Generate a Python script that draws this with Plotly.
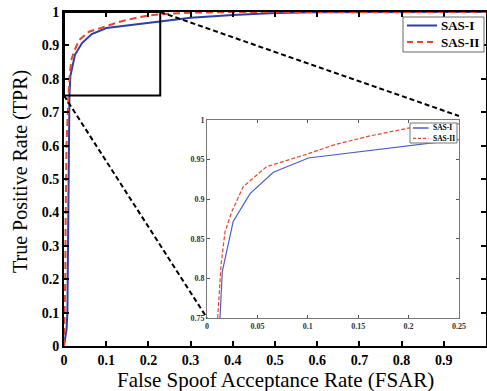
import plotly.graph_objects as go

# ---- data ----
sas1_fsar = [0.0, 0.006, 0.008, 0.009, 0.010, 0.011, 0.0129, 0.0152, 0.026, 0.0427, 0.0658, 0.1006, 0.127, 0.152, 0.211, 0.248, 0.30, 0.40, 0.50, 0.60, 0.80, 1.0]
sas1_tpr  = [0.0, 0.05, 0.10, 0.22, 0.35, 0.50, 0.75, 0.809, 0.872, 0.907, 0.934, 0.952, 0.956, 0.960, 0.969, 0.975, 0.983, 0.991, 0.997, 0.999, 1.0, 1.0]
sas2_fsar = [0.0, 0.003, 0.004, 0.006, 0.0106, 0.0139, 0.0179, 0.0245, 0.036, 0.059, 0.097, 0.127, 0.162, 0.201, 0.248, 0.30, 0.40, 0.60, 1.0]
sas2_tpr  = [0.0, 0.20, 0.40, 0.60, 0.75, 0.817, 0.859, 0.884, 0.916, 0.941, 0.956, 0.969, 0.980, 0.990, 0.995, 0.998, 1.0, 1.0, 1.0]
series_names = ["SAS-I", "SAS-II"]

main_ticks = [0, 0.1, 0.2, 0.3, 0.4, 0.5, 0.6, 0.7, 0.8, 0.9, 1]
main_ticktext = ["0", "0.1", "0.2", "0.3", "0.4", "0.5", "0.6", "0.7", "0.8", "0.9", "1"]
inset_xticks = [0, 0.05, 0.1, 0.15, 0.2, 0.25]
inset_xtext = ["0", "0.05", "0.1", "0.15", "0.2", "0.25"]
inset_yticks = [0.75, 0.8, 0.85, 0.9, 0.95, 1]
inset_ytext = ["0.75", "0.8", "0.85", "0.9", "0.95", "1"]
zoom_box_x = [0, 0.228]
zoom_box_y = [0.75, 1.0]
inset_x_range = [0, 0.25]
inset_y_range = [0.75, 1.0]

BLUE = "#2b3fa8"
BLUE_IN = "#4a60c0"
RED = "#e8452b"
SERIF = "Liberation Serif"

W, H = 487, 391
ML, MR, MT, MB = 64, 1, 12, 45
PW, PH = W - ML - MR, H - MT - MB


def pxx(xpix):
    return (xpix - ML) / PW


def pxy(ypix):
    return (H - MB - ypix) / PH


inset_dom_x = [pxx(207), pxx(459)]
inset_dom_y = [pxy(318), pxy(120)]

fig = go.Figure()
fig.add_trace(go.Scatter(x=sas1_fsar, y=sas1_tpr, mode="lines", name=series_names[0],
                         line=dict(color=BLUE, width=2)))
fig.add_trace(go.Scatter(x=sas2_fsar, y=sas2_tpr, mode="lines", name=series_names[1],
                         line=dict(color=RED, width=2, dash="7px,4px")))
fig.add_trace(go.Scatter(x=sas1_fsar, y=sas1_tpr, mode="lines", name=series_names[0],
                         line=dict(color=BLUE_IN, width=1.2), xaxis="x2", yaxis="y2"))
fig.add_trace(go.Scatter(x=sas2_fsar, y=sas2_tpr, mode="lines", name=series_names[1],
                         line=dict(color=RED, width=1.2, dash="4px,2px"), xaxis="x2", yaxis="y2"))

tickfont_main = dict(family=SERIF, size=14, color="black", weight="bold")
tickfont_in = dict(family=SERIF, size=8, color="#333", weight="bold")

fig.update_layout(
    width=W, height=H,
    margin=dict(l=ML, r=MR, t=MT, b=MB),
    paper_bgcolor="white", plot_bgcolor="white",
    showlegend=False,
    xaxis=dict(domain=[0, 1], range=[0, 1], tickvals=main_ticks, ticktext=main_ticktext,
               ticks="inside", ticklen=5, tickwidth=1.5, tickcolor="black",
               showline=True, linecolor="black", linewidth=2, mirror="ticks",
               showgrid=False, zeroline=False, tickfont=tickfont_main, automargin=False),
    yaxis=dict(domain=[0, 1], range=[0, 1], tickvals=main_ticks, ticktext=main_ticktext,
               ticks="inside", ticklen=5, tickwidth=1.5, tickcolor="black",
               showline=True, linecolor="black", linewidth=2, mirror="ticks",
               showgrid=False, zeroline=False, tickfont=tickfont_main, automargin=False),
    xaxis2=dict(domain=inset_dom_x, anchor="y2", range=inset_x_range,
                tickvals=inset_xticks, ticktext=inset_xtext,
                ticks="inside", ticklen=3, tickcolor="#555",
                showline=True, linecolor="#777", linewidth=1, mirror="ticks",
                showgrid=False, zeroline=False, tickfont=tickfont_in, automargin=False),
    yaxis2=dict(domain=inset_dom_y, anchor="x2", range=inset_y_range,
                tickvals=inset_yticks, ticktext=inset_ytext,
                ticks="inside", ticklen=3, tickcolor="#555",
                showline=True, linecolor="#777", linewidth=1, mirror="ticks",
                showgrid=False, zeroline=False, tickfont=tickfont_in, automargin=False),
)

# axis titles
fig.add_annotation(text="False Spoof Acceptance Rate (FSAR)", xref="paper", yref="paper",
                   x=0.5, y=pxy(380), xanchor="center", yanchor="middle", showarrow=False,
                   font=dict(family=SERIF, size=21, color="black"))
fig.add_annotation(text="True Positive Rate (TPR)", xref="paper", yref="paper",
                   x=pxx(20), y=pxy(172), xanchor="center", yanchor="middle", showarrow=False,
                   textangle=-90, font=dict(family=SERIF, size=20, color="black"))

# zoom rectangle on main axes
fig.add_shape(type="rect", xref="x", yref="y", x0=zoom_box_x[0], x1=zoom_box_x[1],
              y0=zoom_box_y[0], y1=zoom_box_y[1], line=dict(color="black", width=2))
# connector lines (main axes span the full domain with range [0, 1])
fig.add_shape(type="line", xref="paper", yref="paper",
              x0=zoom_box_x[1], y0=zoom_box_y[1], x1=inset_dom_x[1], y1=pxy(116),
              line=dict(color="black", width=2, dash="5px,3px"))
fig.add_shape(type="line", xref="paper", yref="paper",
              x0=zoom_box_x[0], y0=zoom_box_y[0], x1=inset_dom_x[0], y1=inset_dom_y[0],
              line=dict(color="black", width=2, dash="5px,3px"))


def draw_legend(box, rows, sample, text_x, styles, fsize, border):
    # box: (x0, y0, x1, y1) in pixels; rows: y pixel centres
    fig.add_shape(type="rect", xref="paper", yref="paper",
                  x0=pxx(box[0]), x1=pxx(box[2]), y0=pxy(box[3]), y1=pxy(box[1]),
                  fillcolor="white", line=dict(color=border, width=1), layer="above")
    for name, ry, st in zip(series_names, rows, styles):
        fig.add_shape(type="line", xref="paper", yref="paper",
                      x0=pxx(sample[0]), x1=pxx(sample[1]), y0=pxy(ry), y1=pxy(ry),
                      line=st, layer="above")
        fig.add_annotation(text="<b>%s</b>" % name, xref="paper", yref="paper",
                           x=pxx(text_x), y=pxy(ry), xanchor="left", yanchor="middle",
                           showarrow=False, font=dict(family=SERIF, size=fsize, color="black"))


draw_legend((403, 17, 484, 52), (25.5, 42), (407, 437), 439,
            [dict(color=BLUE, width=2), dict(color=RED, width=2, dash="6px,4px")], 13, "#666")
draw_legend((410, 123, 457, 143), (128, 138.3), (413, 428.5), 430.5,
            [dict(color=BLUE_IN, width=1.5), dict(color=RED, width=1.2, dash="3px,2px")], 7.5, "#777")

fig.write_html("out.html", config={"displayModeBar": False},
               post_script="document.body.style.margin='0px';document.body.style.overflow='hidden';")
